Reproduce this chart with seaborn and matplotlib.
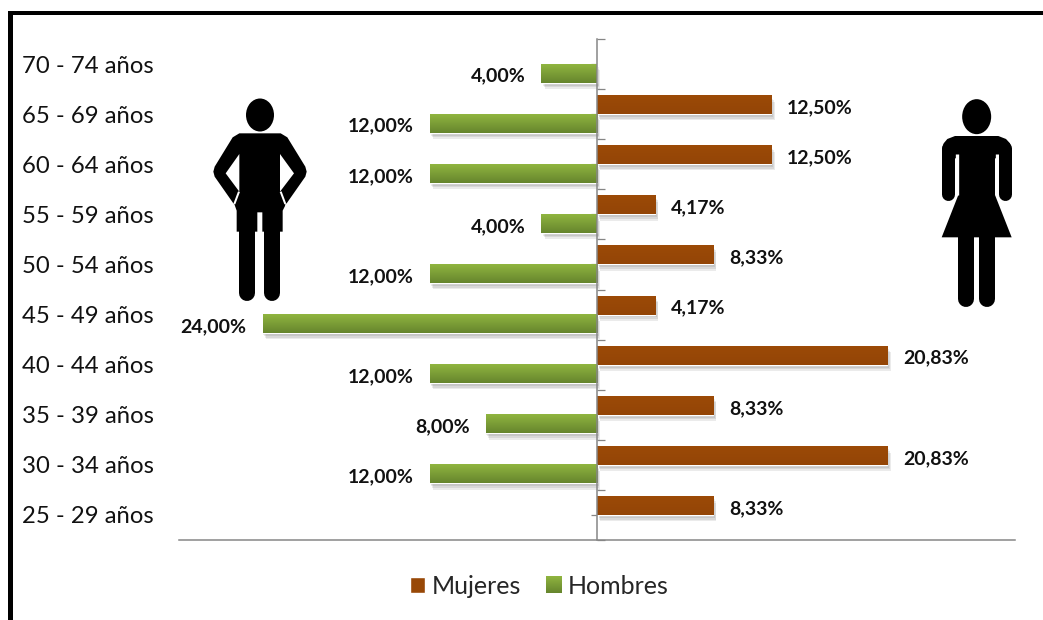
import numpy as np
import pandas as pd
import matplotlib.pyplot as plt
import matplotlib.patheffects as pe
from matplotlib.lines import Line2D
from matplotlib.patches import Ellipse, Polygon, Rectangle
from matplotlib.colors import LinearSegmentedColormap
import seaborn as sns

grupos = ["70 - 74 años", "65 - 69 años", "60 - 64 años", "55 - 59 años", "50 - 54 años",
          "45 - 49 años", "40 - 44 años", "35 - 39 años", "30 - 34 años", "25 - 29 años"]
mujeres = [None, 12.50, 12.50, 4.17, 8.33, 4.17, 20.83, 8.33, 20.83, 8.33]
hombres = [4.00, 12.00, 12.00, 4.00, 12.00, 24.00, 12.00, 8.00, 12.00, None]

W, H = 1043, 620
GRIS = "#868686"
CAFE = "#984807"
VERDE = "#7FA138"


def main():
    sns.set_style("white")
    plt.rcParams["font.family"] = ["Lato", "DejaVu Sans"]

    filas = []
    for g, m, h in zip(grupos, mujeres, hombres):
        filas.append({"grupo": g, "sexo": "Mujeres", "valor": m})
        filas.append({"grupo": g, "sexo": "Hombres", "valor": -h if h is not None else None})
    df = pd.DataFrame(filas)

    fig = plt.figure(figsize=(W / 100, H / 100), dpi=100, facecolor="white")
    ax = fig.add_axes([179 / W, 1 - 540 / H, (1015 - 179) / W, (540 - 39) / H])
    sns.barplot(data=df, y="grupo", x="valor", hue="sexo", order=grupos,
                hue_order=["Mujeres", "Hombres"], palette={"Mujeres": CAFE, "Hombres": VERDE},
                width=0.74, saturation=1, errorbar=None, ax=ax)

    ax.set_xlim(-30, 30)
    ax.set_ylim(9.5, -0.5)
    ax.set_xlabel("")
    ax.set_ylabel("")
    ax.set_xticks([])
    ax.set_facecolor("none")

    # eje vertical en el cero, etiquetas a la izquierda del grafico
    for lado in ["top", "right"]:
        ax.spines[lado].set_visible(False)
    ax.spines["left"].set_position(("data", 0))
    ax.spines["left"].set_color(GRIS)
    ax.spines["left"].set_linewidth(1.1)
    ax.spines["left"].set_zorder(6)
    ax.spines["bottom"].set_color(GRIS)
    ax.spines["bottom"].set_linewidth(1.1)
    ax.set_yticks(range(len(grupos)), grupos)
    ax.set_yticks(np.arange(-0.5, 10), minor=True)
    ax.tick_params(axis="y", which="major", direction="out", length=4.5, width=0.9, color=GRIS,
                   left=True, pad=314.7, labelsize=17.2, labelcolor="#111111")
    ax.tick_params(axis="y", which="minor", direction="in", length=6, width=0.9, color=GRIS, left=True)

    # sombra y degradado de las barras
    verde_cmap = LinearSegmentedColormap.from_list("verde", ["#90B540", "#66852D"])
    cafe_cmap = LinearSegmentedColormap.from_list("cafe", ["#9C4A07", "#934506"])
    sombra = [pe.SimplePatchShadow(offset=(d * 0.8, -d * 1.5), shadow_rgbFace="black", alpha=0.08)
              for d in (3, 2.2, 1.4, 0.7)]
    grad = np.linspace(0, 1, 64).reshape(-1, 1)
    for cont, cmap in zip(ax.containers, [cafe_cmap, verde_cmap]):
        for bar in cont:
            bar.set_path_effects(sombra + [pe.Normal()])
            x0, y0 = bar.get_xy()
            ax.imshow(grad, cmap=cmap, aspect="auto", zorder=3,
                      extent=(x0, x0 + bar.get_width(), y0 + bar.get_height(), y0))
        etiquetas = ax.bar_label(cont, fmt=lambda v: f"{abs(v):.2f}%".replace(".", ","), padding=11.5,
                                 fontsize=14, fontweight="bold", color="#111111", zorder=7)
        for et in etiquetas:
            et.xyann = (et.xyann[0], et.xyann[1] - 2)
    ax.set_xlim(-30, 30)
    ax.set_ylim(9.5, -0.5)

    handles, labels = ax.get_legend_handles_labels()
    ley = ax.legend(handles, labels, ncol=2, frameon=False, fontsize=18, loc="center",
                    bbox_to_anchor=(539 / W, 1 - 586 / H), bbox_transform=fig.transFigure,
                    handlelength=0.62, handleheight=0.62, handletextpad=0.24, columnspacing=1.0)

    # capa en pixeles para el marco y las figuras
    capa = fig.add_axes([0, 0, 1, 1], zorder=10)
    capa.set_xlim(0, W)
    capa.set_ylim(H, 0)
    capa.axis("off")
    capa.patch.set_alpha(0)

    # marco negro
    capa.add_patch(Rectangle((8, 11), W, 4, color="black", lw=0))
    capa.add_patch(Rectangle((8, 11), 5, H, color="black", lw=0))

    # hombre
    def hx(v):
        return 180 + v / 3

    def hy(v):
        return 80 + v / 3

    def figura(puntos, ox, oy):
        capa.add_patch(Polygon([(ox + x / 3, oy + y / 3) for x, y in puntos], closed=True, color="black", lw=0))

    def linea(x1, y1, x2, y2, ox, oy, ancho, color="black", cap="round"):
        capa.add_line(Line2D([ox + x1 / 3, ox + x2 / 3], [oy + y1 / 3, oy + y2 / 3], color=color,
                             lw=ancho / 3 * 0.72, solid_capstyle=cap))

    capa.add_patch(Ellipse((hx(240), hy(105)), 28, 33, color="black", lw=0))
    figura([(178, 160), (302, 160), (322, 172), (376, 260), (380, 275), (376, 290), (320, 370), (316, 372),
            (315, 378), (308, 392), (308, 455), (247, 455), (247, 397), (232, 397), (232, 455), (170, 455),
            (170, 392), (165, 378), (163, 372), (160, 370), (104, 290), (100, 275), (104, 260), (158, 172)], 180, 80)
    # hueco entre brazo y tronco
    capa.add_patch(Polygon([(hx(x), hy(y)) for x, y in [(178, 222), (178, 335), (137, 280)]], color="white", lw=0))
    capa.add_patch(Polygon([(hx(x), hy(y)) for x, y in [(300, 222), (300, 335), (342, 280)]], color="white", lw=0))
    linea(177, 335, 163, 372, 180, 80, 6, color="white", cap="butt")
    linea(302, 335, 316, 372, 180, 80, 6, color="white", cap="butt")
    linea(202, 450, 202, 640, 180, 80, 48)
    linea(276, 450, 276, 640, 180, 80, 48)

    # mujer
    capa.add_patch(Ellipse((920 + 170 / 3, 80 + 110 / 3), 29, 35, color="black", lw=0))
    figura([(67, 205), (71, 190), (82, 177), (105, 168), (235, 168), (258, 177), (270, 190), (274, 205),
            (274, 235), (225, 235), (225, 345), (275, 472), (65, 472), (115, 345), (115, 235), (67, 235)], 920, 80)
    linea(110, 222, 110, 345, 920, 80, 10, color="white", cap="butt")
    linea(230, 222, 230, 345, 920, 80, 10, color="white", cap="butt")
    linea(85, 205, 85, 343, 920, 80, 39)
    linea(256, 205, 256, 343, 920, 80, 39)
    linea(139, 465, 139, 657, 920, 80, 48)
    linea(202, 465, 202, 657, 920, 80, 48)

    # degradado de la muestra de la leyenda
    fig.canvas.draw()
    bb = ley.get_patches()[1].get_window_extent()
    capa.imshow(grad, cmap=verde_cmap, aspect="auto", zorder=5,
                extent=(bb.x0, bb.x1, H - bb.y0, H - bb.y1))
    capa.set_xlim(0, W)
    capa.set_ylim(H, 0)

    fig.savefig("out.png", dpi=100, facecolor="white")


if __name__ == "__main__":
    main()
